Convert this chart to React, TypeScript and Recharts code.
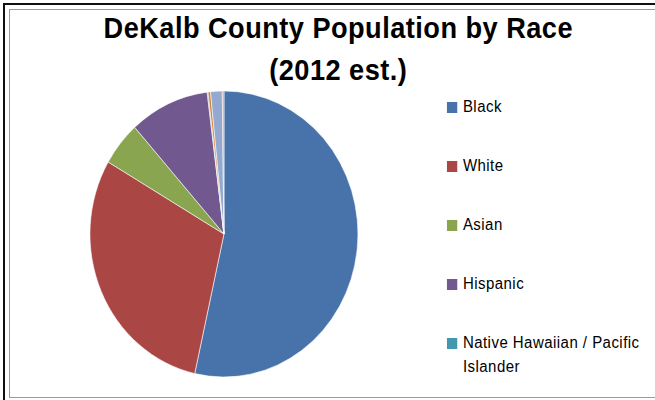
import React from 'react';
import { PieChart, Pie, Cell, Legend } from 'recharts';

const races = [
  'Black',
  'White',
  'Asian',
  'Hispanic',
  'Native Hawaiian / Pacific Islander',
  'American Indian / Alaska Native',
  'Two or More Races',
  'Other',
];
const shares = [53.5, 29.9, 5.0, 9.6, 0.1, 0.3, 1.4, 0.2];
const colors = ['#4773AA', '#AA4644', '#8AA54F', '#71588F', '#4198AF', '#DA8137', '#93A9D0', '#D09392'];
const legendCount = 5;

const data = races.map((name, i) => ({ name, value: shares[i] }));

const SX = 0.937;
const font = '"Liberation Sans", Arial, sans-serif';

// legend in the source only shows the first five races (the rest were cut off)
const renderLegend = () => (
  <div style={{ fontFamily: font, fontSize: 16, letterSpacing: 0.5, color: '#000' }}>
    {races.slice(0, legendCount).map((name, i) => (
      <div key={name} style={{ display: 'flex', alignItems: 'flex-start', height: 59 }}>
        <div style={{ width: 11, height: 11, background: colors[i], marginTop: 6, marginRight: 6 }} />
        <div style={{ width: 200, lineHeight: '24px', marginTop: -1 }}>{name}</div>
      </div>
    ))}
  </div>
);

const App = () => {
  return (
    <div style={{ position: 'absolute', left: 0, top: 0, width: 655, height: 400, overflow: 'hidden', background: '#fff' }}>
      <div style={{ position: 'absolute', left: 3, top: 3, width: 720, height: 420, border: '2px solid #111' }} />
      <div style={{ position: 'absolute', left: 9, top: 9, width: 720, height: 387, border: '1px solid #9a9a9a' }} />
      <div style={{ position: 'absolute', left: 0, top: 0, width: 699, height: 400, transform: `scaleX(${SX})`, transformOrigin: '0 0' }}>
        <div
          style={{
            position: 'absolute',
            left: 0,
            top: 7,
            width: 722,
            textAlign: 'center',
            fontFamily: font,
            fontWeight: 'bold',
            fontSize: 29,
            letterSpacing: 0.5,
            lineHeight: '42px',
            color: '#000',
          }}
        >
          DeKalb County Population by Race
          <br />
          (2012 est.)
        </div>
        <PieChart width={699} height={400} style={{ position: 'absolute', left: 0, top: 0 }}>
          <Pie
            data={data}
            dataKey="value"
            nameKey="name"
            cx={234}
            cy={229}
            outerRadius={143}
            startAngle={90}
            endAngle={-270}
            stroke="#ffffff"
            strokeWidth={0.6}
            isAnimationActive={false}
          >
            {data.map((d, i) => (
              <Cell key={d.name} fill={colors[i]} />
            ))}
          </Pie>
          <Legend
            layout="vertical"
            content={renderLegend}
            wrapperStyle={{ position: 'absolute', left: 477, top: 96, width: 222 }}
          />
        </PieChart>
      </div>
    </div>
  );
};

export default App;
